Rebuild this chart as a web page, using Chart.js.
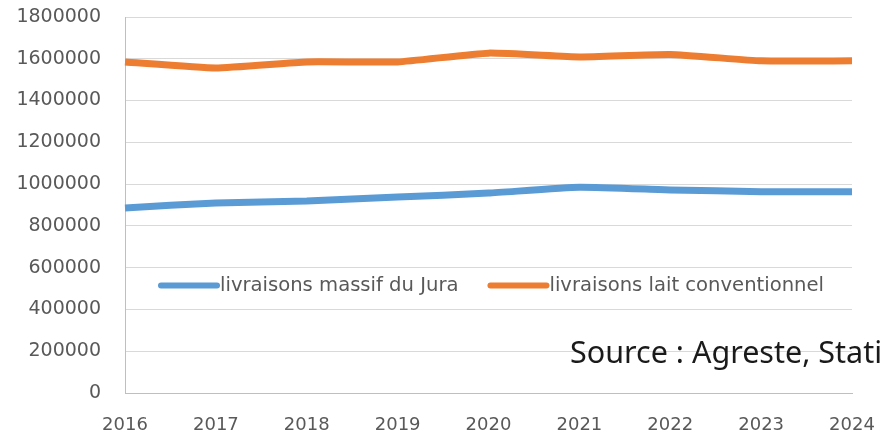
<!DOCTYPE html>
<html lang="fr">
<head>
<meta charset="UTF-8">
<title>Livraisons de lait</title>
<script src="https://cdn.jsdelivr.net/npm/chart.js"></script>
<style>
  html, body { margin:0; padding:0; background:#fff; overflow:hidden; }
  #wrap { position:relative; width:882px; height:439px; overflow:hidden; }
  #source {
    position:absolute; left:570px; top:331px;
    font-family:"Noto Sans", sans-serif; font-size:30.5px; line-height:40px;
    color:#1a1a1a; white-space:nowrap;
  }
</style>
</head>
<body>
<div id="wrap">
  <canvas id="chart" width="882" height="439"></canvas>
  <div id="source">Source : Agreste, Statistique laitière</div>
</div>

<script>
/* ==== données ==== */
const years = ['2016','2017','2018','2019','2020','2021','2022','2023','2024'];
const jura = [886000, 910000, 919000, 938000, 957000, 985000, 972000, 964000, 964000];
const conventionnel = [1585000, 1556000, 1585000, 1585000, 1627000, 1609000, 1621000, 1590000, 1590000];
const seriesNames = ['livraisons massif du Jura', 'livraisons lait conventionnel'];
const seriesColors = ['#5b9bd5', '#ed7d31'];

const tickColor = '#595959';

/* ==== légende dans la zone du graphique ==== */
const insideLegend = {
  id:'insideLegend',
  afterDatasetsDraw(chart){
    const {ctx, chartArea, scales} = chart;
    const y = scales.y.getPixelForValue(515000);
    let x = chartArea.left + 36;
    ctx.save();
    ctx.font = '19.6px "DejaVu Sans", sans-serif';
    ctx.textBaseline = 'middle';
    chart.data.datasets.forEach((ds, i) => {
      ctx.strokeStyle = ds.borderColor;
      ctx.lineWidth = 6;
      ctx.lineCap = 'round';
      ctx.beginPath();
      ctx.moveTo(x, y);
      ctx.lineTo(x + 56, y);
      ctx.stroke();
      ctx.fillStyle = tickColor;
      ctx.fillText(ds.label, x + 59, y);
      x += 59 + ctx.measureText(ds.label).width + 32;
    });
    ctx.restore();
  }
};

new Chart(document.getElementById('chart'), {
  type:'line',
  data:{
    labels: years,
    datasets: [
      { label:seriesNames[0], data:jura, borderColor:seriesColors[0], backgroundColor:seriesColors[0],
        borderWidth:7, pointRadius:0, tension:0.15, borderCapStyle:'butt' },
      { label:seriesNames[1], data:conventionnel, borderColor:seriesColors[1], backgroundColor:seriesColors[1],
        borderWidth:7, pointRadius:0, tension:0.15, borderCapStyle:'butt' }
    ]
  },
  options:{
    responsive:false,
    animation:false,
    layout:{ padding:{ top:17, right:30, left:0, bottom:0 } },
    plugins:{ legend:{ display:false }, tooltip:{ enabled:false } },
    scales:{
      x:{
        offset:false,
        grid:{ display:false, drawTicks:false },
        border:{ display:true, color:'#bfbfbf', width:1 },
        ticks:{ font:{ family:'"DejaVu Sans", sans-serif', size:18 }, color:tickColor, padding:22, maxRotation:0, autoSkip:false },
        afterFit(scale){ scale.height = 46; scale.paddingLeft = 0; scale.paddingRight = 0; }
      },
      y:{
        min:0, max:1800000,
        grid:{ color:'#d9d9d9', lineWidth:1, drawTicks:false },
        border:{ display:true, color:'#bfbfbf', width:1 },
        ticks:{ stepSize:200000, font:{ family:'"DejaVu Sans", sans-serif', size:19 }, color:tickColor, padding:24,
                callback: v => String(v) },
        afterFit(scale){ scale.width = 125; scale.paddingTop = 0; scale.paddingBottom = 0; }
      }
    }
  },
  plugins:[insideLegend]
});
</script>
</body>
</html>
